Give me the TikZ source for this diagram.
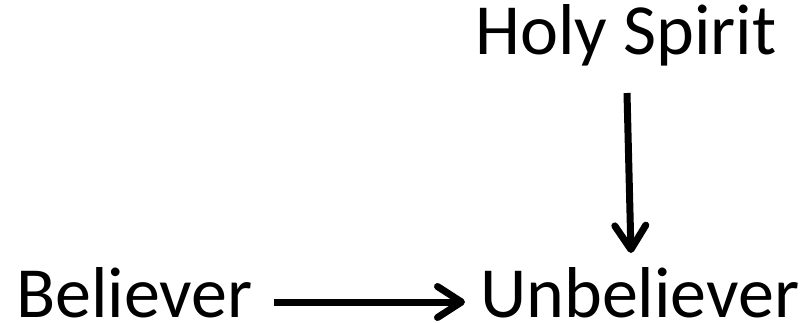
\documentclass[tikz,border=0pt]{standalone}
\usepackage{fontspec}
\setmainfont{Carlito}
\usetikzlibrary{arrows.meta}
\begin{document}
\begin{tikzpicture}[x=1pt,y=-1pt,
  lbl/.style={anchor=base west,inner sep=0pt,text depth=0pt,font=\fontsize{72}{86}\selectfont},
  conn/.style={line width=7pt,-{Straight Barb[length=24pt,width=31pt,line cap=round,line join=round]}}]
\useasboundingbox (0,0) rectangle (804,322);
\node[lbl] (holy) at (475,54) {Holy Spirit};
\node[lbl] (bel) at (16,317) {Believer};
\node[lbl] (unb) at (480,317) {Unbeliever};
\coordinate (h1) at (627,93);
\coordinate (h2) at (631,253);
\coordinate (b1) at (274,302);
\coordinate (b2) at (465,302);
\draw[conn] (h1) -- (h2);
\draw[conn] (b1) -- (b2);
\end{tikzpicture}
\end{document}
